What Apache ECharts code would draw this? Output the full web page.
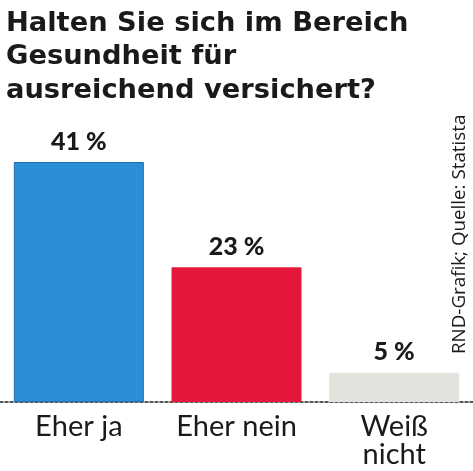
<!DOCTYPE html>
<html><head><meta charset="utf-8">
<script src="https://cdn.jsdelivr.net/npm/echarts@6/dist/echarts.min.js"></script>
<style>html,body{margin:0;padding:0;background:#fff}#c{width:473px;height:471px}</style>
</head><body><div id="c"></div>
<script>
const categories = ['Eher ja', 'Eher nein', 'Weiß\nnicht'];
const values = [41, 23, 5];
const barColors = ['#2b8fd8', '#e3183b', '#e4e2dd'];
const borderColors = ['#1f6cb0', '#e3183b', '#e4e2dd'];
const titleText = 'Halten Sie sich im Bereich\nGesundheit für\nausreichend versichert?';
const sourceText = 'RND-Grafik; Quelle: Statista';

const chart = echarts.init(document.getElementById('c'));
chart.setOption({
  animation: false,
  title: {
    text: titleText, left: 1, top: 2,
    textStyle: { fontFamily: 'DejaVu Sans', fontWeight: 'bold', fontSize: 27.3, lineHeight: 33.5, color: '#1a1a1a' }
  },
  graphic: [{
    type: 'text', x: 450, y: 354, rotation: Math.PI / 2,
    style: { text: sourceText, fontFamily: 'Open Sans', fontSize: 18.8, fill: '#1a1a1a', textVerticalAlign: 'top' }
  }],
  grid: { left: 0, right: 0, top: 162, bottom: 69, containLabel: false },
  xAxis: {
    type: 'category', data: categories,
    axisLine: { lineStyle: { color: '#222', type: [3, 2], width: 1.5 } },
    axisTick: { show: false },
    axisLabel: { fontFamily: 'Lato', fontSize: 29, lineHeight: 28, color: '#1a1a1a', margin: 11, interval: 0 }
  },
  yAxis: { type: 'value', min: 0, max: 41, show: false, splitLine: { show: false } },
  series: [{
    type: 'bar', barWidth: 130,
    data: values.map((v, i) => ({ value: v, itemStyle: { color: barColors[i], borderColor: borderColors[i], borderWidth: 1 } })),
    label: {
      show: true, position: 'top', distance: 8, formatter: '{c} %',
      fontFamily: 'Lato', fontWeight: 900, fontSize: 25, color: '#1a1a1a'
    }
  }]
});
</script></body></html>
